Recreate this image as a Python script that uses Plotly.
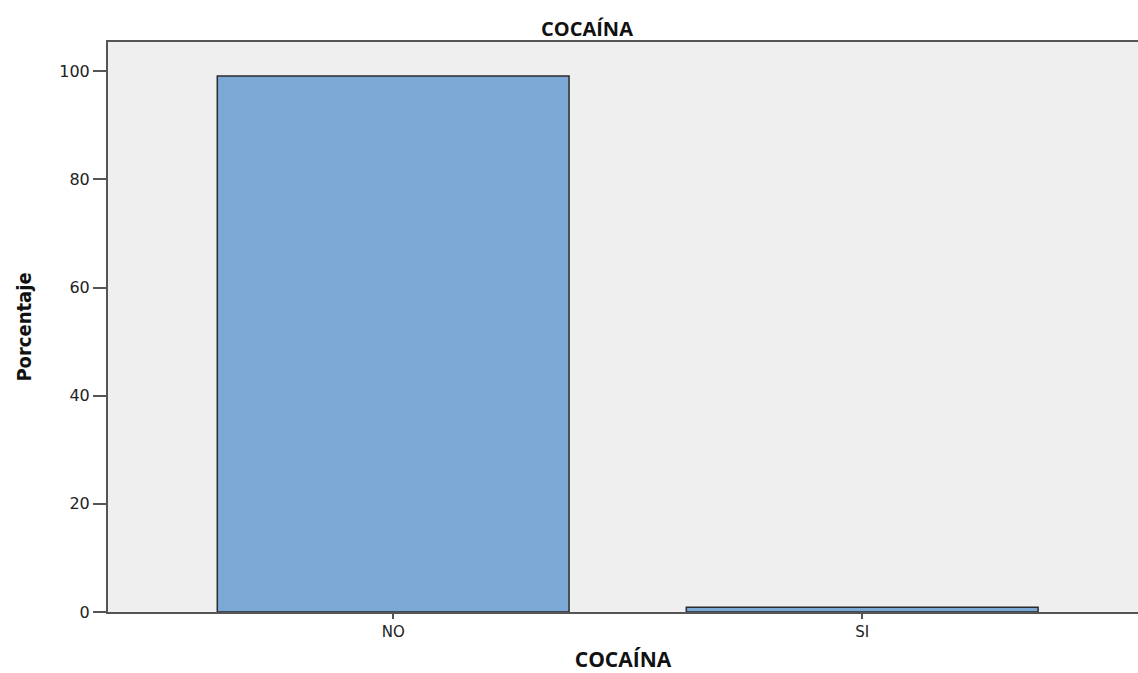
import plotly.graph_objects as go

categories = ["NO", "SI"]
values = [99.1, 0.9]
y_ticks = [0, 20, 40, 60, 80, 100]

fig = go.Figure()
fig.add_trace(go.Bar(
    x=categories, y=values, width=0.75,
    marker=dict(color="#7BA8D5", line=dict(color="#2b2b2b", width=1.5)),
    hoverinfo="skip",
))

fig.update_layout(
    width=1138, height=673,
    margin=dict(l=108, r=0, t=42, b=61),
    paper_bgcolor="white", plot_bgcolor="#EFEFEF",
    showlegend=False,
    title=dict(text="<b>COCAÍNA</b>", x=587/1138, xanchor="center", xref="container",
               y=1 - 29/673, yanchor="middle", yref="container",
               font=dict(family="Open Sans", size=20, color="#111")),
)
fig.update_xaxes(
    type="category", range=[-0.608, 1.588],
    showline=True, linecolor="#555", linewidth=2, mirror=True,
    ticks="outside", ticklen=5, tickcolor="#555", tickwidth=1.5,
    showgrid=False, zeroline=False,
    tickfont=dict(family="DejaVu Sans", size=15, color="#222"),
    title=dict(text="<b>COCAÍNA</b>", standoff=17,
               font=dict(family="Open Sans", size=21, color="#111")),
)
fig.update_yaxes(
    range=[0, 105.4], tickvals=y_ticks,
    showline=True, linecolor="#555", linewidth=2, mirror=False,
    ticks="outside", ticklen=13, tickcolor="#555", tickwidth=1.5,
    showgrid=False, zeroline=False,
    tickfont=dict(family="DejaVu Sans", size=16, color="#222"),
    title=dict(text="<b>Porcentaje</b>", standoff=22,
               font=dict(family="DejaVu Sans Condensed", size=20, color="#111")),
)

fig.write_html(
    "out.html",
    config={"displayModeBar": False},
    post_script="document.body.style.margin='0';document.body.style.overflow='hidden';",
)
